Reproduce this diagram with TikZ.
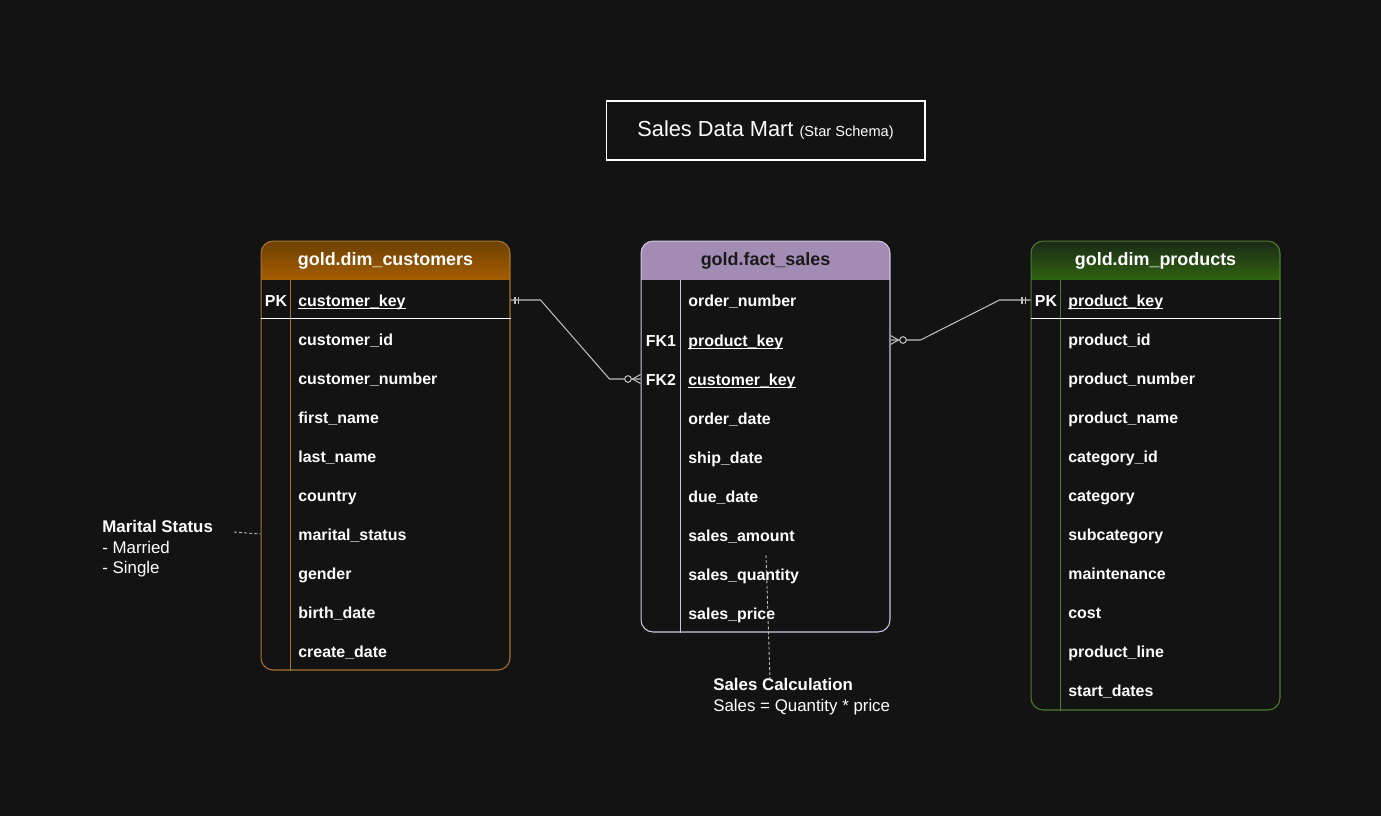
\documentclass[tikz,border=0pt]{standalone}
\usepackage{fontspec}
\setmainfont{Liberation Sans}
\usetikzlibrary{calc}

\definecolor{bg}{HTML}{131313}
\definecolor{custline}{HTML}{A8762E}
\definecolor{custtop}{HTML}{6C4100}
\definecolor{custbot}{HTML}{A45D00}
\definecolor{factline}{HTML}{CFC6E0}
\definecolor{facthead}{HTML}{A28CB4}
\definecolor{prodline}{HTML}{4F7D35}
\definecolor{prodtop}{HTML}{1C2A17}
\definecolor{prodbot}{HTML}{2F6210}
\definecolor{relgray}{HTML}{BDBDBD}

\newcommand{\keyfield}[1]{\underline{\smash{#1}}}
% header fill, top colour to bottom colour in 1px strips
\newcommand{\headgrad}[2]{%
  \foreach \k in {0,...,38} {%
    \pgfmathsetmacro\p{100*\k/38}%
    \fill[#2!\p!#1,sharp corners] ($(path picture bounding box.north west)+(0,\k)$) rectangle ($(path picture bounding box.north east)+(0,\k+1.1)$);%
  }}

\begin{document}
\begin{tikzpicture}[x=0.02cm,y=-0.02cm]
        \tikzset{table/.style = {draw,line width=0.6pt,rounded corners=0.24cm,minimum width=4.98cm,fill=bg,inner sep=0}};
        \tikzset{custbox/.style = {table,draw=custline,path picture={\headgrad{custtop}{custbot}}}};
        \tikzset{factbox/.style = {table,draw=factline,path picture={\fill[facthead,sharp corners] (path picture bounding box.north west) rectangle ([yshift=-0.78cm]path picture bounding box.north east);}}};
        \tikzset{prodbox/.style = {table,draw=prodline,path picture={\headgrad{prodtop}{prodbot}}}};
        \tikzset{head/.style = {text=white,font=\bfseries\fontsize{10.2}{12}\selectfont}};
        \tikzset{field/.style = {anchor=west,inner sep=0,text height=0.24cm,text depth=0cm,text=white,font=\bfseries\fontsize{9.07}{11}\selectfont}};
        \tikzset{key/.style = {field,anchor=center}};
        \tikzset{rel/.style = {draw=relgray,line width=0.6pt}};
        \tikzset{note/.style = {anchor=north west,inner sep=0,align=left,text=white,font=\fontsize{9.6}{11.7}\selectfont}};
        \tikzset{noteline/.style = {draw=relgray,line width=0.5pt,dash pattern=on 1.7pt off 1.2pt}};

        \fill[bg] (0,0) rectangle (1381,816);
        \useasboundingbox (0,0) rectangle (1381,816);

        \node[draw=white,line width=0.6pt,minimum width=6.38cm,minimum height=1.18cm,text=white,font=\fontsize{12.4}{14}\selectfont] (title) at (765.5,130.5) {Sales Data Mart {\fontsize{8.3}{10}\selectfont(Star Schema)}};

        % customers
        \node[custbox,minimum height=8.58cm] (cust) at (385.5,455.5) {};
        \node[head] (custhead) at (385.5,260.5) {gold.dim\_customers};
        \draw[custline,line width=0.6pt] ([xshift=0.6cm,yshift=-0.78cm]cust.north west) -- ([xshift=0.6cm]cust.south west);
        \draw[white,line width=0.6pt] ([yshift=-1.56cm]cust.north west) -- ([yshift=-1.56cm]cust.north east);
        \node[key] (cpkkey) at (276,300) {PK};
        \node[field] (cpk) at (298,300) {\keyfield{customer\_key}};
        \node[field] (cid) at (298,339) {customer\_id};
        \node[field] (cnum) at (298,378) {customer\_number};
        \node[field] (cfirst) at (298,417) {first\_name};
        \node[field] (clast) at (298,456) {last\_name};
        \node[field] (ccountry) at (298,495) {country};
        \node[field] (cmar) at (298,534) {marital\_status};
        \node[field] (cgender) at (298,573) {gender};
        \node[field] (cbirth) at (298,612) {birth\_date};
        \node[field] (ccreate) at (298,651) {create\_date};

        % fact
        \node[factbox,minimum height=7.82cm] (fact) at (765.5,436.5) {};
        \node[head,text=black!90] (facthead) at (765.5,260.5) {gold.fact\_sales};
        \draw[factline,line width=0.6pt] ([xshift=0.8cm,yshift=-0.78cm]fact.north west) -- ([xshift=0.8cm]fact.south west);
        \node[field] (forder) at (688,300) {order\_number};
        \node[key] (fk1key) at (661,340) {FK1};
        \node[field] (fk1) at (688,340) {\keyfield{product\_key}};
        \node[key] (fk2key) at (661,379) {FK2};
        \node[field] (fk2) at (688,379) {\keyfield{customer\_key}};
        \node[field] (fodate) at (688,418) {order\_date};
        \node[field] (fship) at (688,457) {ship\_date};
        \node[field] (fdue) at (688,496) {due\_date};
        \node[field] (famount) at (688,535) {sales\_amount};
        \node[field] (fqty) at (688,574) {sales\_quantity};
        \node[field] (fprice) at (688,613) {sales\_price};

        % products
        \node[prodbox,minimum height=9.38cm] (prod) at (1155.5,475.5) {};
        \node[head] (prodhead) at (1155.5,260.5) {gold.dim\_products};
        \draw[prodline,line width=0.6pt] ([xshift=0.6cm,yshift=-0.78cm]prod.north west) -- ([xshift=0.6cm]prod.south west);
        \draw[white,line width=0.6pt] ([yshift=-1.56cm]prod.north west) -- ([yshift=-1.56cm]prod.north east);
        \node[key] (ppkkey) at (1046,300) {PK};
        \node[field] (ppk) at (1068,300) {\keyfield{product\_key}};
        \node[field] (pid) at (1068,339) {product\_id};
        \node[field] (pnum) at (1068,378) {product\_number};
        \node[field] (pname) at (1068,417) {product\_name};
        \node[field] (pcatid) at (1068,456) {category\_id};
        \node[field] (pcat) at (1068,495) {category};
        \node[field] (psub) at (1068,534) {subcategory};
        \node[field] (pmaint) at (1068,573) {maintenance};
        \node[field] (pcost) at (1068,612) {cost};
        \node[field] (pline) at (1068,651) {product\_line};
        \node[field] (pstart) at (1068,690) {start\_dates};

        % relations
        \coordinate (ca) at (cpk -| cust.east);
        \coordinate (fb) at (fk2 -| fact.west);
        \coordinate (fc) at (fk1 -| fact.east);
        \coordinate (pd) at (ppk -| prod.west);
        \draw[rel] (ca) -- ++(30,0) -- ($(fb)+(-31,0)$) -- (fb);
        \draw[rel] ($(ca)+(4.5,-3.5)$) -- ++(0,7) ($(ca)+(8,-3.5)$) -- ++(0,7);
        \draw[rel] ($(fb)+(-8,0)$) -- ++(8,-4.5) ($(fb)+(-8,0)$) -- ++(8,4.5);
        \draw[rel,fill=bg] ($(fb)+(-12.5,0)$) circle (0.066cm);
        \draw[rel] (fc) -- ++(30,0) -- ($(pd)+(-31,0)$) -- (pd);
        \draw[rel] ($(pd)+(-5,-3.5)$) -- ++(0,7) ($(pd)+(-8.5,-3.5)$) -- ++(0,7);
        \draw[rel] ($(fc)+(8,0)$) -- ++(-8,-4.5) ($(fc)+(8,0)$) -- ++(-8,4.5);
        \draw[rel,fill=bg] ($(fc)+(12.5,0)$) circle (0.066cm);

        % notes
        \node[note] (mnote) at (102,520) {\textbf{Marital Status}\\- Married\\- Single};
        \coordinate (mend) at (234,532);
        \draw[noteline] (mend) -- (cmar -| cust.west);
        \node[note] (snote) at (713,678) {\textbf{Sales Calculation}\\Sales = Quantity * price};
        \coordinate (send) at (766,555);
        \draw[noteline] (send) -- ([xshift=1.14cm,yshift=-0.04cm]snote.north west);
    \end{tikzpicture}
\end{document}
